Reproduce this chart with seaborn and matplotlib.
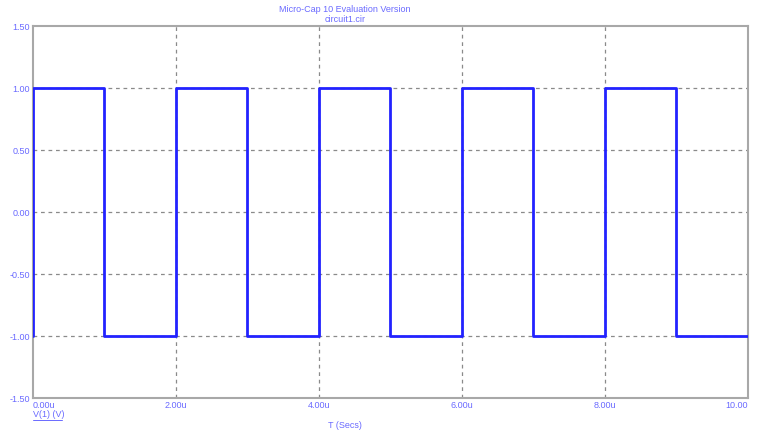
import matplotlib
matplotlib.use("Agg")
import matplotlib.pyplot as plt
import seaborn as sns
import pandas as pd

# waveform V(1): square wave, times in microseconds
time_us = [0, 0, 1, 2, 3, 4, 5, 6, 7, 8, 9, 10]
volts = [-1, 1, -1, 1, -1, 1, -1, 1, -1, 1, -1, -1]

x_ticks = [0, 2, 4, 6, 8, 10]
x_tick_labels = ["0.00u", "2.00u", "4.00u", "6.00u", "8.00u", "10.00"]
y_ticks = [-1.5, -1.0, -0.5, 0.0, 0.5, 1.0, 1.5]
y_tick_labels = ["-1.50", "-1.00", "-0.50", "0.00", "0.50", "1.00", "1.50"]

df = pd.DataFrame({"t": time_us, "v": volts})

sns.set_style("white")
plt.rcParams["font.family"] = ["Liberation Sans", "DejaVu Sans"]

text_blue = "#6a6aff"
fig = plt.figure(figsize=(7.57, 4.30), dpi=100)
ax = fig.add_axes([33 / 757, 1 - 398 / 430, 715 / 757, 372 / 430])

sns.lineplot(data=df, x="t", y="v", ax=ax, color="#2222ff", linewidth=2,
             drawstyle="steps-post", sort=False, estimator=None, zorder=3)

ax.set_xlim(0, 10)
ax.set_ylim(-1.5, 1.5)
ax.set_xticks(x_ticks)
ax.set_xticklabels(x_tick_labels)
ax.set_yticks(y_ticks)
ax.set_yticklabels(y_tick_labels)
ax.tick_params(length=0, labelsize=6.5, labelcolor=text_blue, pad=2)
labels = ax.get_xticklabels()
labels[0].set_ha("left")
labels[-1].set_ha("right")
labels[-1].set_x(10.12)
ax.set_xlabel("")
ax.set_ylabel("")

for y in [-1.0, -0.5, 0.0, 0.5, 1.0]:
    ax.axhline(y, color="#8a8a8a", linestyle=(0, (3, 3)), linewidth=0.9, zorder=1)
for x in [2, 4, 6, 8]:
    ax.axvline(x, color="#8a8a8a", linestyle=(0, (3, 3)), linewidth=0.9, zorder=1)

for s in ax.spines.values():
    s.set_visible(True)
    s.set_color("#a8a8a8")
    s.set_linewidth(1.5)

fig.text(0.456, 1 - 9 / 430, "Micro-Cap 10 Evaluation Version", ha="center",
         va="center", fontsize=6.5, color=text_blue)
fig.text(0.456, 1 - 19.5 / 430, "circuit1.cir", ha="center", va="center",
         fontsize=6.5, color=text_blue)
fig.text(0.456, 1 - 425 / 430, "T (Secs)", ha="center", va="center",
         fontsize=6.5, color=text_blue)
fig.text(33 / 757, 1 - 414.5 / 430, "V(1) (V)", ha="left", va="center",
         fontsize=6.5, color=text_blue)
fig.add_artist(plt.Line2D([33 / 757, 62 / 757], [1 - 419.5 / 430, 1 - 419.5 / 430],
                          color=text_blue, linewidth=0.7))

fig.savefig("out.png", dpi=100)
